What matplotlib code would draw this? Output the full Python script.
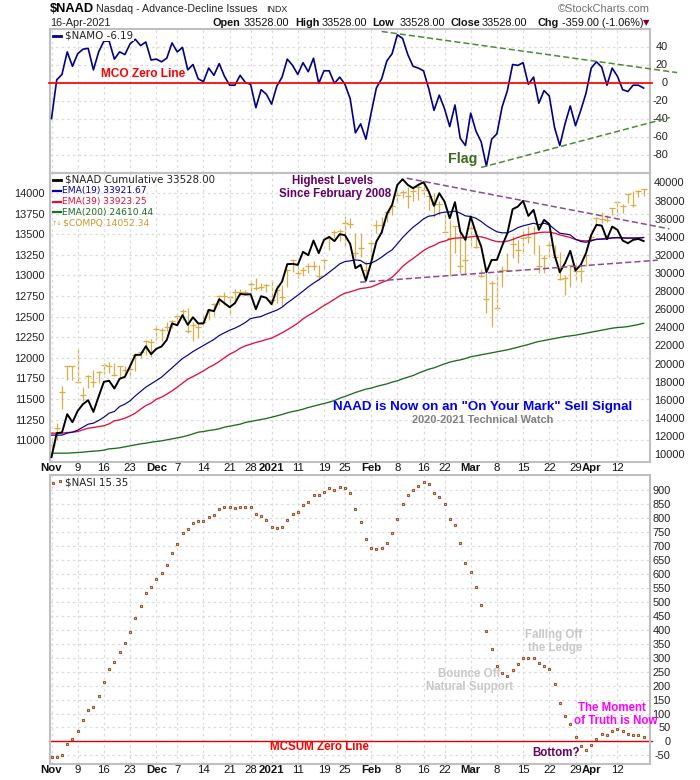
import matplotlib
matplotlib.use("Agg")
import matplotlib.pyplot as plt
from matplotlib.lines import Line2D
import numpy as np

namo = [-40,3,9,34,18,32,37,38,14,34,46,46,26,34,31,43,48,41,45,25,26,23,27,44,34,39,14,20,4,1,16,8,21,7,-3,-3,8,0,-2,-28,-8,-13,-24,-4,6,26,19,9,22,12,27,-1,13,13,-1,6,-2,-18,
        -56,-46,-63,-34,-6,4,24,32,53,49,31,18,16,13,-7,-31,-14,-29,-49,-25,-62,-70,-34,-54,-66,-93,-63,-57,-27,-9,20,19,22,-2,6,-23,-9,-15,-50,-70,-46,-26,-48,-31,-12,16,23,17,-3,16,7,-8,-10,-3,-3,-6.19]
naad = [9670,12320,12390,14416,13530,14780,15520,15960,14670,16370,17990,18100,17250,18320,18540,19720,20970,20970,21920,21040,21630,21890,22620,24430,24240,25350,24280,25120,24430,24430,25930,25790,27110,26670,26230,26670,27700,27630,27660,26010,27440,27260,26560,28220,29060,30980,31010,30900,32340,31970,33590,32190,33660,33990,33520,34290,34180,33220,
        30530,30900,29170,31160,33480,34470,36500,37530,39730,40360,39730,39370,39730,40030,39000,37420,38810,37890,36050,37820,34580,33660,36240,34400,32930,30090,31450,31450,33000,34400,37050,37340,37970,36310,36970,34770,35870,35390,32010,30090,31090,32450,30280,30900,32190,34210,35320,35240,33740,35130,34770,33590,33290,33660,33770,33528]
ema19 = [12100,12100,12100,12320,12430,12650,12980,13310,13420,13720,14080,14530,14710,15260,15520,15890,16440,16920,17400,17760,18130,18500,19020,19530,20050,20560,20930,21330,21670,22000,22330,22660,23100,23400,23690,23910,24200,24540,24980,25090,25200,25460,25680,25900,26230,26710,27110,27550,28000,28470,28880,29250,29650,30090,30530,31010,31270,31340,
         31450,31380,31010,31090,31380,31750,32190,32560,33220,33920,34510,35060,35500,35980,36280,36350,36610,36720,36750,36830,36610,36310,36240,36050,35690,35240,34880,34550,34440,34440,34690,35020,35210,35350,35500,35320,35500,35320,34840,34400,34320,34210,33740,33480,33400,33550,33740,33740,33770,33880,33920,33880,33850,33850,33850,33922]
ema39 = [12320,12320,12320,12390,12430,12500,12690,12870,12940,13050,13130,13350,13680,13790,13970,14230,14530,14970,15370,15630,16070,16290,16620,16990,17400,17840,18280,18570,18870,19200,19570,19860,20230,20640,21040,21330,21700,21960,22140,22330,22480,22660,22810,23100,23400,23730,24090,24460,24940,25310,25640,26040,26410,26740,27110,27480,27770,27920,
         28110,28290,28360,28470,28690,28950,29170,29540,30090,30720,31200,31600,32040,32480,32820,33040,33370,33520,33740,33850,33880,33920,33990,34070,33990,33850,33630,33480,33440,33520,33700,33920,34140,34250,34360,34470,34510,34510,34400,34210,34070,33920,33700,33590,33550,33630,33700,33770,33850,33880,33880,33880,33880,33880,33880,33923]
ema200 = [10110,10110,10110,10110,10150,10180,10220,10290,10330,10370,10440,10590,10630,10700,10810,10920,11030,11140,11210,11320,11400,11470,11580,11690,11800,11910,12060,12240,12430,12500,12610,12690,12800,12980,13090,13200,13310,13500,13610,13720,13830,13940,14080,14230,14380,14560,14710,14820,14970,15150,15300,15450,15590,15740,15920,16180,16370,16590,
          16810,16990,17180,17290,17470,17620,17760,17950,18100,18320,18500,18680,18940,19160,19380,19530,19750,19970,20160,20300,20410,20560,20750,20860,20970,21080,21190,21300,21410,21520,21670,21810,21960,22110,22290,22440,22550,22660,22770,22880,22990,23060,23140,23250,23360,23470,23580,23690,23800,23910,23980,24020,24090,24200,24310,24460]
comp_high = [10985,11205,11660,11905,11905,12110,11650,11795,11855,11840,11935,11950,11935,11905,11895,11945,12030,12085,12220,12225,12400,12360,12440,12460,12545,12595,12610,12440,12420,12530,12590,12665,12760,12795,12745,12835,12835,12825,12920,12975,12905,12900,12950,12885,12885,13080,13200,13130,13100,13150,13170,13130,13200,13455,13555,13565,13725,13695,
             13515,13515,13170,13435,13675,13710,13780,13880,14020,14040,14080,14080,14095,14155,13980,14000,13900,13745,13675,13605,13550,13475,13595,13555,13080,13030,12930,12995,13110,13270,13475,13435,13555,13595,13595,13375,13250,13415,13375,13290,13010,13130,13110,13130,13250,13475,13705,13765,13740,13825,13900,13870,14000,14030,14035,14050]
comp_low = [10860,11005,11380,11725,11725,11690,11470,11630,11650,11690,11800,11815,11785,11755,11795,11785,11845,11995,12035,12015,12220,12210,12330,12360,12420,12460,12300,12200,12240,12440,12455,12505,12645,12645,12515,12685,12755,12760,12780,12820,12825,12805,12645,12665,12630,12855,13040,12970,12995,13035,13070,12950,13070,13310,13455,13415,13355,13575,
            13210,13230,12950,13210,13515,13515,13645,13740,13880,13940,13825,13900,13920,13980,13790,13705,13740,13525,12995,13270,13030,13010,13355,13335,12980,12545,12380,12585,12865,13050,13210,13150,13270,13395,13265,13030,13030,13230,13190,12950,12765,12865,12950,12915,13110,13425,13615,13635,13645,13740,13725,13760,13880,13830,13950,13970]
comp_close = [10945,11145,11590,11895,11895,11705,11545,11775,11705,11830,11915,11895,11795,11895,11850,11870,12030,12070,12205,12195,12355,12335,12370,12450,12510,12570,12330,12395,12370,12440,12585,12650,12755,12745,12735,12805,12800,12805,12895,12845,12865,12885,12705,12820,12740,13070,13185,13030,13070,13110,13115,12990,13190,13455,13530,13545,13635,13625,
              13270,13330,13070,13400,13610,13610,13765,13845,13980,14010,13970,14020,14080,14040,13960,13865,13865,13530,13455,13595,13120,13190,13575,13345,12995,12715,12910,12605,13070,13065,13385,13310,13455,13465,13515,13110,13210,13375,13225,12955,12975,13130,13055,13050,13245,13470,13695,13685,13675,13820,13890,13845,13995,13850,14020,14052]
nasi = [-57,-57,-47,-11,7,36,75,111,125,161,212,258,283,319,351,391,441,484,531,552,581,602,631,674,706,746,760,782,789,789,803,810,832,839,839,835,842,842,842,814,807,792,767,764,767,792,814,821,846,857,882,882,893,907,903,911,907,889,
        832,785,724,692,688,692,713,746,799,850,882,900,914,929,921,889,875,850,799,774,710,641,606,552,488,394,330,272,244,235,255,276,298,298,300,280,269,258,204,136,90,61,14,-18,-32,-14,7,25,22,36,43,36,25,22,22,15]

tick_pos = [0,5,10,15,20,24,29,34,38,42,47,52,56,61,66,71,75,80,85,90,95,100,103,108]
tick_lab = ["Nov","9","16","23","Dec","7","14","21","28","2021","11","19","25","Feb","8","16","22","Mar","8","15","22","29","Apr","12"]
bold_lab = {"Nov","Dec","2021","Feb","Mar","Apr"}
namo_ticks = [40,20,0,-20,-40,-60,-80]
naad_ticks = list(range(10000,40001,2000))
comp_ticks = list(range(11000,14001,250))
nasi_ticks = list(range(-50,901,50))

W, H = 700, 780
SANS = "Liberation Sans"
GRID = "#dcdcdc"
SP = "#c0c0c0"
GOLD = "#d9ae45"
GOLD_TXT = "#cc9a2a"
PURPLE = "#660066"
x = np.arange(len(namo))
X0, DX = 51.5, 5.24
fig = plt.figure(figsize=(7,7.8), dpi=100, facecolor="white")

def mk(top, bot):
    ax = fig.add_axes([50/W, 1-bot/H, 600/W, (bot-top)/H])
    ax.set_xlim((50-X0)/DX, (650-X0)/DX)
    ax.set_xticks(tick_pos)
    ax.grid(True, color=GRID, ls=(0,(2,2.5)), lw=0.9)
    ax.set_axisbelow(True)
    ax.yaxis.tick_right()
    ax.tick_params(length=0, labelsize=7.9, labelcolor="#222222", pad=3)
    for s in ax.spines.values():
        s.set_color(SP); s.set_linewidth(1.5)
    return ax

def T(px, py, s, **k):
    k.setdefault("family", SANS)
    k.setdefault("va", "center")
    return fig.text(px/W, 1-py/H, s, **k)

def L(x0, x1, py, c, lw):
    fig.add_artist(Line2D([x0/W,x1/W],[1-py/H,1-py/H],color=c,lw=lw))

def xlabels(ax):
    ax.set_xticklabels(tick_lab)
    for l in ax.get_xticklabels():
        l.set_family(SANS); l.set_fontsize(8.2); l.set_color("#111111")
        if l.get_text() in bold_lab:
            l.set_fontweight("bold")

# ---------- top panel
a1 = mk(28.5, 172.5)
a1.set_ylim(-100, 60)
a1.set_yticks(namo_ticks)
a1.set_yticklabels([str(v) for v in namo_ticks], family=SANS, ha="right")
a1.tick_params(axis="y", pad=13)
a1.tick_params(labelbottom=False)
a1.plot(x, namo, color="#000088", lw=1.2, zorder=3, solid_joinstyle="round")
a1.plot([-0.5, 114.6], [0, 0], color="#ff0000", lw=1.25, zorder=4, clip_on=False)
a1.plot([63, 119.4], [56.7, 11], color="#4f8a3a", lw=1.1, ls=(0,(4,2)), clip_on=False, zorder=5)
a1.plot([82, 118], [-94.4, -38.9], color="#4f8a3a", lw=1.1, ls=(0,(4,2)), clip_on=False, zorder=5)

# ---------- middle panel
a2 = mk(172.5, 461.5)
a2.set_ylim(9190, 41100)
b2 = a2.twinx()
a2.yaxis.tick_right()
a2.set_yticks(naad_ticks)
a2.set_yticklabels([str(v) for v in naad_ticks], family=SANS)
a2.grid(False, axis="y")
a2.tick_params(axis="y", length=0, labelsize=7.9, labelcolor="#222222", pad=3)
b2.set_ylim(10741, 14250)
b2.yaxis.tick_left()
b2.set_yticks(comp_ticks)
b2.set_yticklabels([str(v) for v in comp_ticks], family=SANS)
b2.tick_params(axis="y", length=0, labelsize=7.9, labelcolor="#222222", pad=4)
b2.grid(True, axis="y", color=GRID, ls=(0,(2,2.5)), lw=0.9)
b2.set_axisbelow(True)
for s in b2.spines.values():
    s.set_visible(False)
b2.vlines(x, comp_low, comp_high, color=GOLD, lw=0.9, zorder=1)
b2.plot(x, comp_close, ls="none", marker="_", ms=5, mew=0.9, color=GOLD, zorder=1)
a2.set_zorder(b2.get_zorder()+1)
a2.patch.set_visible(False)
a2.plot(x, ema200, color="#1f6b1f", lw=0.95, zorder=3)
a2.plot(x, ema39, color="#e0103c", lw=0.95, zorder=3)
a2.plot(x, ema19, color="#000090", lw=0.85, zorder=3)
a2.plot(x, naad, color="black", lw=1.4, zorder=4, solid_joinstyle="round")
a2.plot([67.8, 117.9], [40470, 34880], color="#8e4a96", lw=1.1, ls=(0,(4,2)), clip_on=False, zorder=5)
a2.plot([58.9, 115.7], [28990, 31420], color="#8e4a96", lw=1.1, ls=(0,(4,2)), clip_on=False, zorder=5)
xlabels(a2)
a2.tick_params(axis="x", pad=1)

# ---------- bottom panel
a3 = mk(475, 764)
a3.set_ylim(-81, 955)
a3.set_yticks(nasi_ticks)
a3.set_yticklabels([str(v) for v in nasi_ticks], family=SANS, ha="right")
a3.tick_params(axis="y", pad=15)
a3.plot([-0.5, 114.6], [0, 0], color="#e00000", lw=1.0, zorder=2, clip_on=False)
a3.plot(x, nasi, ls="none", marker="s", ms=2.0, mfc="#f0d8c0", mec="#a0522d", mew=0.8, zorder=3)
xlabels(a3)
a3.tick_params(axis="x", pad=1)

# ---------- header
T(50, 9, "$NAAD", fontsize=9.2, fontweight="bold")
T(96, 9, "Nasdaq - Advance-Decline Issues", fontsize=7.7, color="#222222")
T(266, 9, "INDX", fontsize=6.4, color="#222222")
T(50, 22.5, "16-Apr-2021", fontsize=7.8, color="#222222")
for px, s, b in [(212,"Open",1),(244,"33528.00",0),(295,"High",1),(322,"33528.00",0),
                 (372,"Low",1),(400,"33528.00",0),(451,"Close",1),(482,"33528.00",0),
                 (537,"Chg",1),(562,"-359.00 (-1.06%)",0)]:
    T(px, 22.5, s, fontsize=7.8, fontweight="bold" if b else "normal", color="#111111")
T(643, 23, "▼", family="DejaVu Sans", fontsize=6, color="#800033")
T(650, 9.5, "©StockCharts.com", fontsize=7.9, ha="right", color="#707070")

# ---------- legends
LG = "DejaVu Sans"
T(65, 35.5, "$NAMO -6.19", family=LG, fontsize=7.4, color="#222222",
  bbox=dict(fc="white", ec="none", pad=0.6), zorder=6)
L(53, 61, 35.5, "#000088", 2)
T(65, 179.5, "$NAAD Cumulative 33528.00", family=LG, fontsize=7.4, color="#222222")
L(53, 61, 179.5, "black", 2)
for py, c, s in [(190.5,"#000090","EMA(19) 33921.67"),(201.5,"#e0103c","EMA(39) 33923.25"),
                 (212.5,"#1f6b1f","EMA(200) 24610.44"),(223,GOLD_TXT,"$COMPQ 14052.34")]:
    T(62 if py < 220 else 63, py, s, family=LG, fontsize=6.6, color=c)
    if py < 220:
        L(53, 61, py, c, 1.6)
T(52, 223.5, "↑↓", family=LG, fontsize=4.6, color=GOLD_TXT)
T(65, 482.5, "$NASI 15.35", family=LG, fontsize=7.4, color="#222222")
fig.add_artist(Line2D([53/W,59.5/W],[1-482.5/H,1-480.5/H],ls="none",marker="s",ms=2.0,
                      mfc="#f0d8c0",mec="#a0522d",mew=0.8))

# ---------- annotations
T(143.5, 74, "MCO Zero Line", fontsize=8.6, fontweight="bold", color="#ff0000", ha="center")
T(463, 159.5, "Flag", fontsize=10.2, fontweight="bold", color="#3d6b1f", ha="center")
T(333, 181, "Highest Levels", fontsize=8.3, fontweight="bold", color=PURPLE, ha="center")
T(335, 194, "Since February 2008", fontsize=8.3, fontweight="bold", color=PURPLE, ha="center")
T(483, 407, 'NAAD is Now on an "On Your Mark" Sell Signal', fontsize=9.6, fontweight="bold", color="#0000ee", ha="center")
T(482.5, 420, "2020-2021 Technical Watch", fontsize=7.9, fontweight="bold", color="#808080", ha="center")
T(319.5, 747.5, "MCSUM Zero Line", fontsize=8.3, fontweight="bold", color="#ff0000", ha="center")
for px, py, s, c in [(554,635,"Falling Off","#c8c8c8"),(555,648,"the Ledge","#c8c8c8"),
                     (469,674,"Bounce Off","#c8c8c8"),(470,687,"Natural Support","#c8c8c8"),
                     (612,708,"The Moment","#ff00ff"),(616,721,"of Truth is Now","#ff00ff"),
                     (556,753,"Bottom?",PURPLE)]:
    T(px, py, s, fontsize=8.3, fontweight="bold", color=c, ha="center")

fig.savefig("out.png", dpi=100)
